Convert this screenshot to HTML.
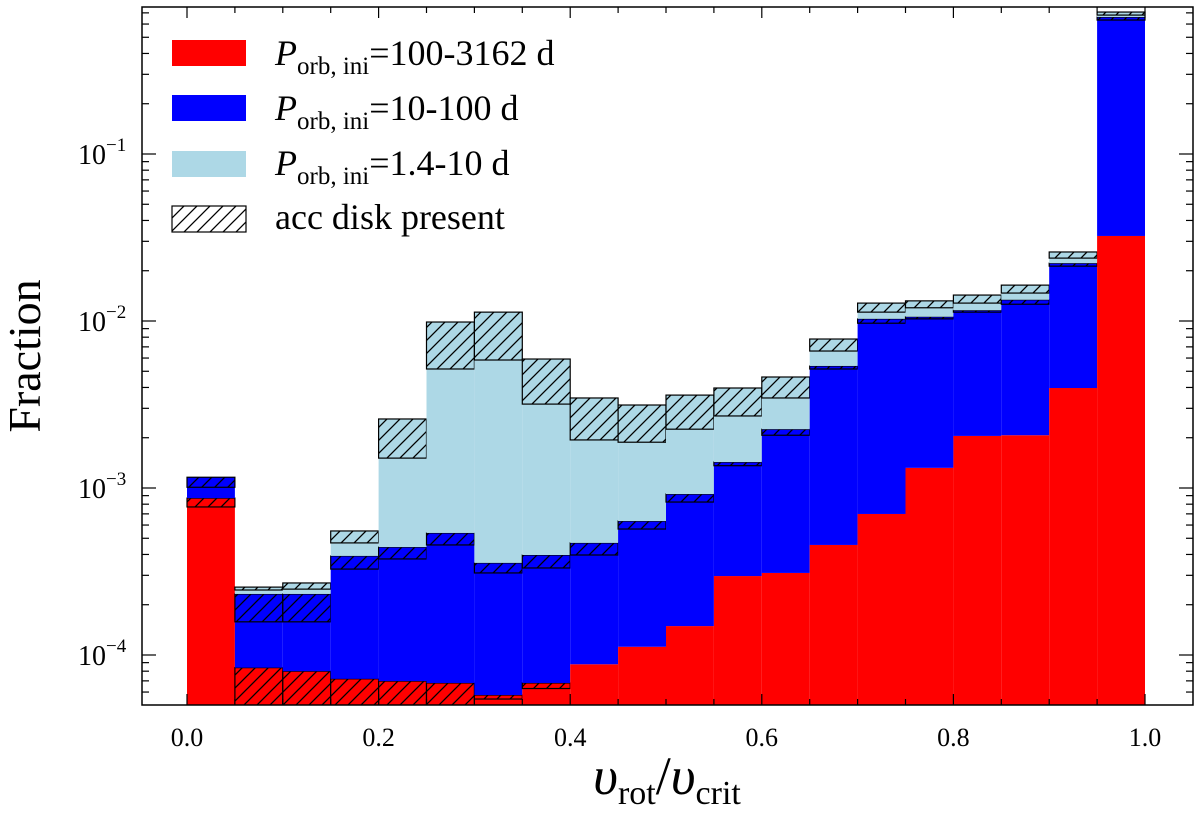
<!DOCTYPE html>
<html><head><meta charset="utf-8"><style>
html,body{margin:0;padding:0;background:#fff;}
svg{display:block;font-family:"Liberation Serif",serif;}
</style></head><body>
<svg id="chart" width="1200" height="817" viewBox="0 0 1200 817" xmlns="http://www.w3.org/2000/svg">
<defs>
<pattern id="hatch" patternUnits="userSpaceOnUse" width="13" height="13">
<path d="M-3,3 L3,-3 M0,13 L13,0 M10,16 L16,10" stroke="#000" stroke-width="1.3"/>
</pattern>
<clipPath id="plotclip"><rect x="142" y="7" width="1051" height="698"/></clipPath>
</defs>
<g id="bars" clip-path="url(#plotclip)"></g>
<g id="axes"></g>
<g id="legend">
<rect x="172" y="40" width="74" height="26" fill="#ff0000"/>
<text x="275" y="65" font-size="36"><tspan font-style="italic">P</tspan><tspan font-size="25" dy="9">orb, ini</tspan><tspan dy="-9">=100-3162 d</tspan></text>
<rect x="172" y="95" width="74" height="26" fill="#0000ff"/>
<text x="275" y="120" font-size="36"><tspan font-style="italic">P</tspan><tspan font-size="25" dy="9">orb, ini</tspan><tspan dy="-9">=10-100 d</tspan></text>
<rect x="172" y="151" width="74" height="26" fill="#add8e6"/>
<text x="275" y="175" font-size="36"><tspan font-style="italic">P</tspan><tspan font-size="25" dy="9">orb, ini</tspan><tspan dy="-9">=1.4-10 d</tspan></text>
<rect x="172" y="206" width="74" height="26" fill="url(#hatch)" stroke="#000" stroke-width="1.2"/>
<text x="275" y="229" font-size="36">acc disk present</text>
</g>
<text x="40" y="356" font-size="46" text-anchor="middle" transform="rotate(-90 40 356)">Fraction</text>
<text x="667" y="794" font-size="54" text-anchor="middle"><tspan font-style="italic">υ</tspan><tspan font-size="34" dy="10">rot</tspan><tspan dy="-10">/</tspan><tspan font-style="italic">υ</tspan><tspan font-size="34" dy="10">crit</tspan></text>
</svg>
<script>
// bin left edges
const binStarts = [0,0.05,0.1,0.15,0.2,0.25,0.3,0.35,0.4,0.45,0.5,0.55,0.6,0.65,0.7,0.75,0.8,0.85,0.9,0.95];
// cumulative stacked levels (fraction)
const redNoDisk = [7.7e-4,1e-6,1e-6,1e-6,1e-6,1e-6,5.45e-5,6.3e-5,8.8e-5,1.12e-4,1.49e-4,2.97e-4,3.10e-4,4.56e-4,6.99e-4,1.32e-3,2.05e-3,2.07e-3,3.97e-3,3.23e-2];
const redTotal   = [8.7e-4,8.4e-5,8.0e-5,7.2e-5,6.98e-5,6.8e-5,5.76e-5,6.8e-5,8.8e-5,1.12e-4,1.49e-4,2.97e-4,3.10e-4,4.56e-4,6.99e-4,1.32e-3,2.05e-3,2.07e-3,3.97e-3,3.23e-2];
const blueNoDisk = [1.01e-3,1.58e-4,1.58e-4,3.27e-4,3.76e-4,4.56e-4,3.10e-4,3.32e-4,3.97e-4,5.68e-4,8.24e-4,1.36e-3,2.07e-3,5.16e-3,9.7e-3,1.03e-2,1.13e-2,1.26e-2,2.13e-2,0.634];
const blueTotal  = [1.16e-3,2.32e-4,2.32e-4,3.92e-4,4.43e-4,5.38e-4,3.56e-4,3.97e-4,4.69e-4,6.34e-4,9.2e-4,1.43e-3,2.25e-3,5.38e-3,1.03e-2,1.06e-2,1.16e-2,1.34e-2,2.22e-2,0.661];
const lbNoDisk   = [1.16e-3,2.45e-4,2.48e-4,4.69e-4,1.51e-3,5.16e-3,5.84e-3,3.18e-3,1.94e-3,1.88e-3,2.25e-3,2.70e-3,3.46e-3,6.61e-3,1.13e-2,1.20e-2,1.28e-2,1.47e-2,2.38e-2,0.679];
const lbTotal    = [1.16e-3,2.55e-4,2.70e-4,5.53e-4,2.59e-3,9.86e-3,1.13e-2,5.92e-3,3.46e-3,3.14e-3,3.6e-3,3.97e-3,4.62e-3,7.8e-3,1.28e-2,1.32e-2,1.43e-2,1.64e-2,2.59e-2,0.708];
const binWidth = 0.05;
const xTickLabels = ["0.0","0.2","0.4","0.6","0.8","1.0"];
const yTickExps = [-4,-3,-2,-1];

const NS="http://www.w3.org/2000/svg";
const X0=142,X1=1193,Y0=7,Y1=705;
function xs(v){return 187+v*958;}
function ys(v){return 154-(Math.log10(v)+1)*167;}
function mk(tag,attrs,parent){const e=document.createElementNS(NS,tag);for(const k in attrs)e.setAttribute(k,attrs[k]);parent.appendChild(e);return e;}
const bars=document.getElementById('bars');
const axes=document.getElementById('axes');
const BOT=1e-6;
binStarts.forEach((b,i)=>{
  const xa=xs(b),xb=xs(b+binWidth),w=xb-xa;
  const segs=[
    [BOT,redNoDisk[i],'#ff0000',false,'red'],
    [redNoDisk[i],redTotal[i],'#ff0000',true,'red-disk'],
    [redTotal[i],blueNoDisk[i],'#0000ff',false,'blue'],
    [blueNoDisk[i],blueTotal[i],'#0000ff',true,'blue-disk'],
    [blueTotal[i],lbNoDisk[i],'#add8e6',false,'lightblue'],
    [lbNoDisk[i],lbTotal[i],'#add8e6',true,'lightblue-disk']];
  segs.forEach(s=>{
    if(s[1]<=s[0])return;
    let yt=ys(s[1]),yb=Math.min(ys(s[0]),Y1+5);
    if(yt>=yb)return;
    const r=mk('rect',{x:xa,y:yt,width:w,height:yb-yt,fill:s[2]},bars);
    
    
    if(s[3]){
      const h=mk('rect',{x:xa,y:yt,width:w,height:yb-yt,fill:'url(#hatch)',stroke:'#000','stroke-width':1.2},bars);
      
      
    }
  });
});
// frame
const fr=mk('rect',{x:X0,y:Y0,width:X1-X0,height:Y1-Y0,fill:'none',stroke:'#000','stroke-width':1.5},axes);


// x ticks
for(let k=0;k<=20;k++){
  const v=k*0.05,x=xs(v),major=(k%4===0),L=major?11:6;
  mk('line',{x1:x,y1:Y1,x2:x,y2:Y1-L,stroke:'#000','stroke-width':1.2},axes);
  mk('line',{x1:x,y1:Y0,x2:x,y2:Y0+L,stroke:'#000','stroke-width':1.2},axes);
}
xTickLabels.forEach((t,i)=>{
  const tx=mk('text',{x:xs(i*0.2),y:746,'font-size':26,'text-anchor':'middle'},axes);
  tx.textContent=t;
  
  
});
// y ticks
for(let e=-5;e<=0;e++){
  for(let m=1;m<10;m++){
    const v=m*Math.pow(10,e),y=ys(v);
    if(y<Y0||y>Y1)continue;
    const L=m===1?14:7;
    mk('line',{x1:X0,y1:y,x2:X0+L,y2:y,stroke:'#000','stroke-width':1.2},axes);
    mk('line',{x1:X1,y1:y,x2:X1-L,y2:y,stroke:'#000','stroke-width':1.2},axes);
  }
}
yTickExps.forEach(e=>{
  const y=ys(Math.pow(10,e));
  const tx=mk('text',{x:78,y:y+10,'font-size':28},axes);
  
  
  const a=document.createElementNS(NS,'tspan');a.textContent='10';tx.appendChild(a);
  const b=document.createElementNS(NS,'tspan');b.setAttribute('font-size','19');b.setAttribute('dy','-13');b.textContent='−'+(-e);tx.appendChild(b);
});
</script>
</body></html>
